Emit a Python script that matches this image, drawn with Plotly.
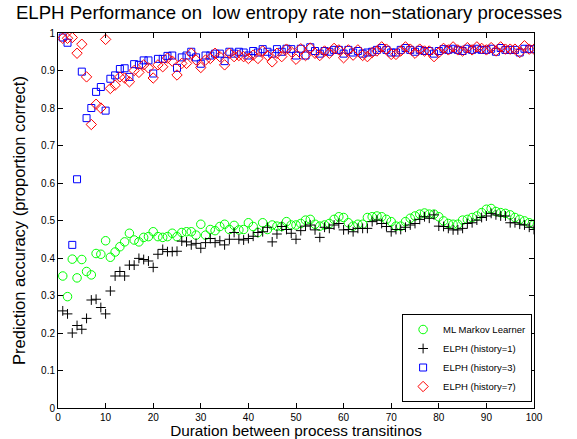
import plotly.graph_objects as go

durations = list(range(1, 101))

ml_markov = [
    0.352, 0.297, 0.397, 0.347, 0.396, 0.364, 0.355, 0.412, 0.410, 0.446,
    0.402, 0.416, 0.430, 0.443, 0.466, 0.448, 0.443, 0.455, 0.457, 0.470,
    0.457, 0.455, 0.457, 0.466, 0.457, 0.468, 0.470, 0.470, 0.461, 0.490,
    0.461, 0.476, 0.473, 0.484, 0.490, 0.476, 0.487, 0.475, 0.476, 0.494,
    0.484, 0.468, 0.494, 0.476, 0.488, 0.485, 0.484, 0.497, 0.488, 0.488,
    0.492, 0.501, 0.503, 0.490, 0.485, 0.488, 0.492, 0.503, 0.510, 0.508,
    0.494, 0.485, 0.490, 0.490, 0.508, 0.510, 0.512, 0.510, 0.503, 0.497,
    0.485, 0.485, 0.497, 0.506, 0.512, 0.517, 0.520, 0.517, 0.517, 0.510,
    0.499, 0.492, 0.490, 0.490, 0.501, 0.503, 0.508, 0.512, 0.521, 0.530,
    0.532, 0.524, 0.521, 0.519, 0.515, 0.508, 0.503, 0.499, 0.494, 0.490,
]

elph_h1 = [
    0.259, 0.251, 0.200, 0.220, 0.210, 0.239, 0.288, 0.290, 0.268, 0.251,
    0.312, 0.352, 0.364, 0.352, 0.381, 0.381, 0.399, 0.396, 0.392, 0.375,
    0.410, 0.423, 0.417, 0.417, 0.418, 0.445, 0.443, 0.435, 0.439, 0.426,
    0.441, 0.452, 0.441, 0.446, 0.435, 0.450, 0.468, 0.450, 0.448, 0.452,
    0.458, 0.468, 0.470, 0.482, 0.443, 0.464, 0.484, 0.476, 0.466, 0.450,
    0.473, 0.485, 0.488, 0.475, 0.455, 0.482, 0.479, 0.488, 0.492, 0.475,
    0.476, 0.470, 0.479, 0.479, 0.479, 0.497, 0.501, 0.492, 0.484, 0.470,
    0.476, 0.476, 0.482, 0.488, 0.492, 0.503, 0.510, 0.506, 0.515, 0.485,
    0.484, 0.479, 0.475, 0.475, 0.479, 0.492, 0.494, 0.501, 0.508, 0.512,
    0.519, 0.515, 0.512, 0.512, 0.494, 0.494, 0.490, 0.488, 0.482, 0.476,
]

elph_h3 = [
    0.988, 0.974, 0.435, 0.610, 0.897, 0.773, 0.800, 0.843, 0.856, 0.793,
    0.878, 0.887, 0.904, 0.906, 0.883, 0.917, 0.915, 0.927, 0.927, 0.892,
    0.931, 0.931, 0.939, 0.940, 0.907, 0.935, 0.940, 0.950, 0.935, 0.918,
    0.940, 0.940, 0.945, 0.945, 0.925, 0.950, 0.945, 0.950, 0.948, 0.940,
    0.952, 0.948, 0.957, 0.950, 0.945, 0.957, 0.950, 0.958, 0.957, 0.940,
    0.958, 0.940, 0.962, 0.952, 0.945, 0.952, 0.950, 0.955, 0.955, 0.945,
    0.955, 0.948, 0.952, 0.945, 0.948, 0.950, 0.955, 0.960, 0.955, 0.948,
    0.948, 0.955, 0.960, 0.955, 0.950, 0.955, 0.952, 0.952, 0.945, 0.952,
    0.957, 0.955, 0.958, 0.955, 0.952, 0.958, 0.955, 0.958, 0.955, 0.955,
    0.958, 0.950, 0.960, 0.955, 0.955, 0.955, 0.948, 0.958, 0.957, 0.957,
]

elph_h7 = [
    0.986, 0.986, 0.988, 0.946, 0.970, 0.883, 0.756, 0.810, 0.800, 0.983,
    0.852, 0.861, 0.883, 0.880, 0.870, 0.900, 0.895, 0.915, 0.907, 0.880,
    0.915, 0.910, 0.933, 0.925, 0.888, 0.919, 0.919, 0.946, 0.928, 0.908,
    0.928, 0.932, 0.946, 0.937, 0.915, 0.946, 0.937, 0.940, 0.937, 0.932,
    0.941, 0.932, 0.952, 0.940, 0.923, 0.946, 0.937, 0.957, 0.950, 0.930,
    0.958, 0.940, 0.960, 0.946, 0.940, 0.952, 0.946, 0.959, 0.955, 0.934,
    0.955, 0.941, 0.955, 0.940, 0.937, 0.948, 0.952, 0.963, 0.957, 0.943,
    0.943, 0.952, 0.963, 0.957, 0.946, 0.957, 0.952, 0.952, 0.937, 0.948,
    0.959, 0.955, 0.963, 0.955, 0.952, 0.961, 0.955, 0.963, 0.959, 0.955,
    0.961, 0.952, 0.963, 0.957, 0.957, 0.957, 0.948, 0.966, 0.957, 0.957,
]

series_names = ["ML Markov Learner", "ELPH (history=1)", "ELPH (history=3)", "ELPH (history=7)"]
x_ticks = [0, 10, 20, 30, 40, 50, 60, 70, 80, 90, 100]
y_ticks = [0, 0.1, 0.2, 0.3, 0.4, 0.5, 0.6, 0.7, 0.8, 0.9, 1]
y_tick_labels = ["0", "0.1", "0.2", "0.3", "0.4", "0.5", "0.6", "0.7", "0.8", "0.9", "1"]

FONT = "Liberation Sans, Arial, Helvetica, sans-serif"

fig = go.Figure()
fig.add_trace(go.Scatter(x=durations, y=ml_markov, mode="markers", name=series_names[0],
                         marker=dict(symbol="circle-open", size=8.5, color="#00ff00",
                                     line=dict(width=1, color="#00ff00"))))
fig.add_trace(go.Scatter(x=durations, y=elph_h1, mode="markers", name=series_names[1],
                         marker=dict(symbol="cross-thin-open", size=7, color="black",
                                     line=dict(width=1, color="black"))))
fig.add_trace(go.Scatter(x=durations, y=elph_h3, mode="markers", name=series_names[2],
                         marker=dict(symbol="square-open", size=7, color="#0000ff",
                                     line=dict(width=1, color="#0000ff"))))
fig.add_trace(go.Scatter(x=durations, y=elph_h7, mode="markers", name=series_names[3],
                         marker=dict(symbol="diamond-open", size=8, color="#ff0000",
                                     line=dict(width=1, color="#ff0000"))))

axis_common = dict(showgrid=False, zeroline=False, showline=True, linecolor="black",
                   linewidth=1, ticks="inside", ticklen=5, tickcolor="black",
                   mirror="ticks", automargin=False,
                   tickfont=dict(family=FONT, size=10, color="black"))

fig.update_layout(
    width=577, height=439,
    margin=dict(l=58, r=43, t=33, b=31),
    paper_bgcolor="white", plot_bgcolor="white",
    font=dict(family=FONT, color="black"),
    title=dict(text="ELPH Performance on\u00a0 low entropy rate non\u2212stationary processes",
               x=0.501, xanchor="center", y=1 - 12 / 439, yanchor="middle", yref="container",
               font=dict(family=FONT, size=18.6, color="black")),
    xaxis=dict(range=[0, 100], tickvals=x_ticks, ticktext=[str(v) for v in x_ticks],
               title=dict(text="Duration between process transitinos", standoff=2,
                          font=dict(family=FONT, size=15.3, color="black")),
               **axis_common),
    yaxis=dict(range=[0, 1], tickvals=y_ticks, ticktext=y_tick_labels,
               title=dict(text="Prediction accuracy (proportion correct)", standoff=11,
                          font=dict(family=FONT, size=16.5, color="black")),
               **axis_common),
    legend=dict(x=0.996, xanchor="right", y=0.016, yanchor="bottom",
                bordercolor="black", borderwidth=1, bgcolor="white",
                font=dict(family=FONT, size=9.5, color="black")),
    showlegend=True,
)

fig.write_html("out.html", config={"displayModeBar": False},
               post_script="document.body.style.margin='0px';")
